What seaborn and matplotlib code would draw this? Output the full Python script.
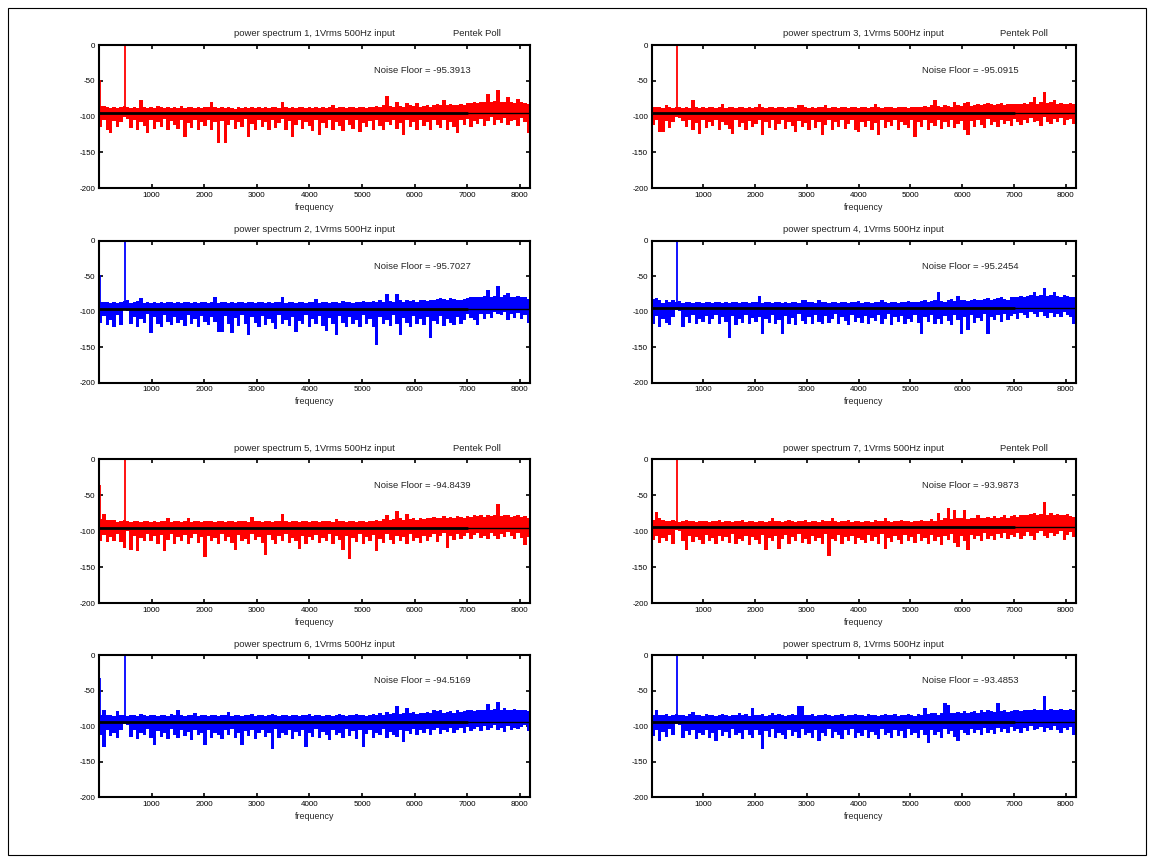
import numpy as np
import matplotlib
matplotlib.use("Agg")
import matplotlib.pyplot as plt
from matplotlib.patches import Rectangle
import seaborn as sns

# ---------------- data ----------------
BIN_HZ = 64            # width of one envelope step (Hz)
F_MAX = 8192           # right end of the frequency axis
TONE_HZ = 500          # input tone frequency
TONE_DB = 0            # tone peak level
NF_SPLIT_HZ = 7000     # noise-floor line drawn thick up to here

x_ticks = [1000, 2000, 3000, 4000, 5000, 6000, 7000, 8000]
y_ticks = [-200, -150, -100, -50, 0]

panel_ids = [1, 2, 3, 4, 5, 6, 7, 8]
noise_floor = [-95.3913, -95.7027, -95.0915, -95.2454, -94.8439, -94.5169, -93.9873, -93.4853]
dc_level = [-49, -48, -32, -40, -35, -33, -33, -35]
has_label = [True, False, True, False, True, False, True, False]

# upper / lower envelopes of each spectrum, one value per 64 Hz step (dB)
hi_1 = [-85, -85, -86, -88, -87, -88, -86, -85, -86, -88, -87, -88, -77, -87, -88, -86,
        -88, -85, -87, -88, -86, -88, -87, -88, -85, -88, -87, -86, -88, -87, -88, -86,
        -87, -80, -86, -88, -87, -88, -86, -88, -89, -87, -88, -86, -88, -87, -88, -87,
        -88, -86, -88, -87, -86, -88, -79, -86, -88, -87, -88, -86, -87, -88, -86, -88,
        -87, -88, -86, -88, -87, -84, -88, -86, -87, -88, -86, -87, -88, -86, -87, -88,
        -86, -87, -85, -86, -84, -71, -85, -86, -79, -85, -86, -81, -84, -85, -81, -86,
        -85, -84, -86, -84, -83, -84, -77, -84, -83, -84, -84, -83, -84, -81, -81, -79,
        -81, -80, -79, -68, -80, -78, -63, -80, -79, -73, -80, -81, -75, -80, -81, -82]
lo_1 = [-114, -104, -118, -123, -106, -115, -108, -100, -103, -116, -105, -119, -107, -113, -123, -104,
        -117, -108, -114, -103, -119, -106, -112, -117, -104, -129, -109, -116, -105, -118, -107, -113,
        -104, -119, -108, -137, -106, -137, -111, -104, -117, -108, -115, -103, -129, -110, -118, -105,
        -114, -107, -119, -104, -116, -109, -103, -118, -106, -128, -111, -104, -117, -108, -113, -120,
        -105, -126, -109, -116, -104, -118, -107, -113, -120, -105, -111, -117, -104, -122, -109, -115,
        -106, -118, -104, -113, -119, -107, -112, -104, -117, -109, -126, -105, -115, -108, -118, -104,
        -113, -107, -119, -105, -112, -116, -104, -118, -108, -114, -123, -105, -111, -103, -115, -106,
        -110, -103, -113, -106, -101, -112, -105, -109, -102, -111, -106, -104, -113, -102, -108, -123]

hi_2 = [-87, -87, -86, -88, -86, -88, -87, -85, -84, -88, -87, -85, -81, -88, -87, -88,
        -86, -88, -87, -88, -86, -87, -88, -86, -88, -87, -86, -88, -87, -88, -86, -87,
        -88, -87, -80, -88, -87, -86, -88, -87, -88, -86, -87, -88, -87, -86, -88, -87,
        -86, -88, -87, -88, -86, -87, -80, -88, -86, -87, -88, -87, -86, -88, -87, -86,
        -82, -88, -87, -86, -88, -87, -86, -88, -85, -87, -86, -88, -87, -86, -85, -87,
        -86, -85, -87, -84, -86, -75, -85, -86, -75, -84, -86, -83, -85, -84, -86, -83,
        -84, -85, -83, -84, -82, -81, -82, -83, -81, -82, -83, -84, -82, -81, -80, -79,
        -80, -79, -78, -70, -80, -78, -64, -80, -77, -74, -80, -79, -78, -80, -79, -82]
lo_2 = [-116, -106, -119, -112, -122, -105, -119, -98, -99, -117, -107, -121, -110, -116, -104, -130,
        -108, -118, -121, -105, -114, -119, -107, -116, -112, -120, -105, -117, -110, -122, -106, -115,
        -119, -107, -114, -128, -128, -106, -117, -130, -109, -120, -105, -118, -133, -108, -116, -121,
        -106, -119, -111, -116, -124, -105, -118, -112, -120, -107, -128, -113, -118, -105, -121, -110,
        -117, -106, -120, -127, -109, -118, -133, -106, -116, -121, -108, -117, -112, -122, -105, -118,
        -110, -121, -147, -107, -117, -112, -120, -105, -118, -133, -109, -116, -121, -106, -118, -111,
        -119, -107, -137, -113, -118, -106, -120, -110, -116, -119, -108, -117, -112, -104, -109, -112,
        -119, -103, -110, -104, -109, -101, -103, -105, -100, -112, -104, -109, -102, -110, -105, -116]

hi_3 = [-86, -87, -86, -88, -84, -87, -88, -86, -87, -88, -86, -88, -77, -87, -88, -86,
        -88, -87, -86, -88, -87, -83, -88, -86, -87, -88, -86, -87, -88, -86, -88, -87,
        -83, -87, -88, -86, -87, -88, -86, -87, -88, -86, -87, -88, -84, -84, -87, -88,
        -86, -88, -87, -86, -84, -88, -87, -86, -88, -87, -86, -88, -87, -86, -88, -87,
        -86, -88, -87, -83, -86, -88, -87, -86, -87, -88, -86, -87, -86, -88, -87, -86,
        -87, -86, -85, -86, -84, -77, -85, -86, -84, -85, -86, -80, -84, -85, -81, -80,
        -85, -84, -83, -84, -82, -81, -83, -84, -82, -81, -84, -83, -82, -83, -82, -83,
        -81, -82, -80, -72, -82, -79, -66, -81, -80, -77, -82, -81, -83, -82, -81, -83]
lo_3 = [-112, -105, -121, -121, -106, -116, -108, -100, -102, -106, -115, -104, -118, -109, -124, -105,
        -116, -108, -113, -104, -118, -107, -112, -117, -124, -105, -114, -109, -119, -106, -115, -110,
        -104, -126, -108, -116, -105, -119, -110, -104, -117, -108, -113, -121, -106, -115, -109, -118,
        -105, -116, -108, -126, -112, -104, -118, -107, -114, -105, -117, -110, -104, -119, -121, -107,
        -115, -106, -118, -109, -126, -105, -116, -108, -113, -104, -119, -107, -112, -116, -105, -128,
        -108, -115, -104, -118, -109, -113, -105, -117, -108, -114, -104, -116, -110, -106, -118, -126,
        -106, -114, -104, -111, -116, -103, -112, -107, -115, -104, -110, -106, -113, -103, -108, -111,
        -104, -109, -102, -108, -106, -113, -101, -107, -110, -103, -108, -102, -112, -105, -103, -110]

hi_4 = [-82, -81, -84, -88, -83, -87, -83, -86, -85, -88, -87, -86, -88, -87, -86, -88,
        -87, -86, -88, -87, -86, -88, -87, -88, -86, -87, -88, -86, -87, -88, -86, -87,
        -78, -88, -87, -86, -88, -87, -86, -88, -87, -88, -86, -87, -88, -83, -84, -87,
        -86, -88, -83, -87, -86, -88, -87, -86, -88, -87, -86, -88, -87, -86, -85, -88,
        -87, -86, -88, -87, -86, -84, -87, -88, -86, -87, -88, -86, -87, -85, -86, -87,
        -86, -85, -84, -86, -85, -84, -73, -85, -86, -84, -82, -85, -78, -84, -83, -85,
        -84, -82, -83, -84, -82, -81, -83, -82, -81, -80, -82, -83, -80, -79, -80, -78,
        -79, -78, -77, -72, -78, -77, -67, -78, -77, -73, -78, -79, -77, -78, -79, -80]
lo_4 = [-118, -106, -121, -110, -116, -119, -107, -98, -99, -121, -108, -116, -105, -117, -110, -115,
        -106, -118, -111, -105, -117, -108, -114, -137, -106, -119, -110, -116, -105, -118, -109, -115,
        -107, -131, -110, -116, -105, -118, -112, -131, -106, -117, -109, -119, -104, -113, -118, -107,
        -117, -105, -115, -118, -106, -116, -110, -104, -117, -108, -113, -119, -105, -114, -109, -116,
        -106, -118, -109, -113, -105, -117, -111, -104, -119, -108, -115, -106, -117, -110, -114, -105,
        -116, -131, -108, -114, -105, -117, -110, -118, -106, -113, -119, -105, -112, -131, -108, -126,
        -105, -116, -109, -113, -104, -131, -108, -112, -105, -115, -103, -112, -106, -104, -110, -102,
        -105, -109, -101, -104, -108, -100, -106, -109, -102, -107, -104, -108, -101, -105, -107, -117]

hi_5 = [-83, -76, -84, -84, -84, -87, -86, -84, -86, -87, -85, -86, -87, -85, -86, -87,
        -86, -87, -85, -86, -82, -87, -86, -85, -87, -86, -82, -87, -86, -85, -87, -86,
        -85, -86, -87, -85, -86, -87, -86, -85, -87, -86, -85, -86, -87, -80, -86, -85,
        -87, -86, -85, -87, -86, -85, -76, -86, -87, -85, -86, -87, -85, -86, -87, -86,
        -85, -87, -86, -85, -86, -87, -83, -85, -86, -87, -85, -86, -87, -85, -86, -87,
        -85, -86, -84, -85, -83, -78, -84, -83, -72, -82, -84, -76, -83, -81, -84, -82,
        -83, -81, -82, -80, -82, -81, -79, -82, -80, -81, -79, -80, -81, -79, -80, -78,
        -79, -78, -80, -77, -79, -78, -62, -79, -77, -78, -80, -79, -78, -80, -79, -81]
lo_5 = [-114, -105, -115, -108, -113, -104, -115, -123, -100, -126, -106, -128, -109, -114, -104, -113,
        -107, -117, -105, -128, -112, -104, -117, -108, -113, -105, -118, -109, -104, -116, -108, -136,
        -106, -114, -109, -117, -104, -113, -108, -116, -126, -105, -113, -110, -117, -104, -112, -108,
        -116, -133, -105, -112, -118, -107, -114, -104, -116, -109, -113, -124, -106, -117, -108, -112,
        -105, -116, -109, -114, -104, -118, -107, -112, -126, -106, -139, -109, -115, -104, -117, -108,
        -113, -105, -128, -110, -116, -104, -112, -118, -106, -113, -108, -117, -104, -114, -109, -116,
        -106, -113, -108, -104, -115, -107, -103, -123, -106, -112, -104, -110, -107, -102, -111, -105,
        -103, -109, -106, -111, -102, -107, -110, -104, -108, -101, -106, -111, -103, -109, -119, -108]

hi_6 = [-84, -77, -84, -85, -86, -79, -85, -84, -86, -85, -84, -86, -83, -85, -86, -84,
        -85, -86, -84, -85, -86, -83, -85, -77, -85, -86, -84, -85, -81, -86, -84, -85,
        -86, -84, -85, -86, -84, -85, -80, -86, -84, -85, -86, -84, -85, -83, -86, -85,
        -84, -86, -85, -83, -85, -86, -84, -85, -86, -84, -85, -86, -84, -85, -83, -86,
        -85, -84, -86, -85, -84, -86, -85, -83, -84, -86, -85, -84, -83, -85, -84, -86,
        -84, -83, -85, -82, -84, -80, -83, -82, -72, -83, -81, -75, -82, -80, -83, -81,
        -82, -80, -81, -77, -79, -78, -81, -80, -79, -81, -78, -80, -79, -78, -77, -79,
        -78, -77, -78, -69, -77, -76, -66, -77, -75, -77, -78, -76, -77, -78, -77, -79]
lo_6 = [-112, -130, -106, -114, -109, -117, -105, -97, -98, -115, -106, -118, -109, -113, -104, -116,
        -126, -107, -115, -109, -118, -104, -112, -117, -106, -114, -108, -119, -105, -113, -110, -126,
        -105, -116, -109, -113, -118, -106, -112, -104, -117, -109, -126, -107, -114, -105, -118, -110,
        -106, -115, -109, -132, -104, -117, -110, -113, -105, -118, -108, -114, -106, -130, -109, -115,
        -104, -117, -108, -113, -119, -105, -112, -109, -116, -104, -114, -107, -118, -106, -130, -111,
        -105, -116, -109, -113, -104, -117, -108, -112, -115, -105, -122, -107, -111, -104, -113, -106,
        -110, -104, -112, -106, -103, -111, -105, -108, -102, -110, -106, -103, -109, -101, -107, -104,
        -101, -107, -100, -106, -103, -99, -105, -102, -108, -100, -106, -102, -104, -101, -99, -107]

hi_7 = [-84, -73, -82, -84, -85, -86, -84, -85, -87, -86, -84, -86, -85, -87, -86, -85,
        -86, -87, -85, -86, -84, -87, -85, -86, -87, -85, -86, -84, -87, -86, -85, -87,
        -86, -85, -87, -86, -81, -85, -86, -87, -85, -84, -86, -87, -85, -86, -84, -87,
        -86, -85, -87, -84, -86, -85, -81, -86, -87, -85, -86, -84, -87, -85, -86, -87,
        -85, -86, -87, -84, -86, -85, -82, -86, -87, -85, -86, -84, -85, -86, -87, -85,
        -86, -84, -85, -86, -83, -85, -75, -84, -82, -68, -83, -70, -82, -81, -71, -83,
        -82, -81, -77, -82, -81, -80, -82, -79, -81, -80, -78, -81, -79, -78, -80, -77,
        -78, -77, -76, -74, -78, -76, -59, -77, -75, -78, -76, -77, -78, -76, -79, -80]
lo_7 = [-112, -106, -116, -109, -114, -105, -117, -98, -100, -113, -126, -106, -115, -108, -112, -117,
        -105, -114, -109, -118, -106, -113, -108, -116, -104, -117, -110, -113, -106, -119, -108, -112,
        -117, -105, -126, -109, -114, -106, -124, -111, -105, -117, -108, -113, -104, -116, -110, -118,
        -106, -114, -109, -117, -104, -134, -110, -113, -105, -118, -108, -114, -106, -117, -109, -112,
        -116, -105, -113, -108, -118, -104, -124, -109, -115, -106, -112, -117, -105, -114, -108, -116,
        -104, -113, -109, -117, -105, -114, -108, -119, -106, -112, -104, -116, -122, -107, -113, -126,
        -105, -111, -107, -114, -103, -110, -106, -112, -104, -109, -102, -111, -105, -108, -103, -110,
        -106, -101, -107, -112, -103, -100, -106, -109, -102, -107, -104, -100, -112, -105, -101, -108]

hi_8 = [-84, -77, -84, -85, -83, -86, -84, -83, -85, -84, -86, -83, -80, -85, -84, -86,
        -83, -85, -84, -86, -85, -83, -84, -86, -85, -84, -82, -85, -83, -86, -75, -84,
        -85, -83, -86, -84, -82, -85, -83, -84, -86, -85, -83, -84, -72, -72, -84, -85,
        -83, -86, -84, -85, -83, -84, -86, -85, -84, -83, -86, -85, -84, -83, -85, -84,
        -86, -83, -85, -84, -86, -85, -83, -84, -85, -83, -86, -84, -85, -83, -84, -86,
        -83, -84, -75, -83, -82, -81, -84, -82, -67, -70, -82, -81, -80, -82, -79, -81,
        -80, -79, -81, -78, -80, -77, -79, -80, -68, -79, -78, -80, -79, -78, -77, -79,
        -78, -77, -78, -76, -77, -78, -58, -77, -76, -78, -77, -76, -77, -78, -76, -78]
lo_8 = [-114, -105, -121, -108, -115, -104, -113, -97, -98, -116, -107, -113, -105, -118, -109, -112,
        -106, -117, -109, -121, -105, -114, -108, -117, -104, -113, -110, -118, -106, -112, -116, -105,
        -113, -132, -107, -115, -104, -117, -109, -112, -118, -105, -114, -108, -116, -104, -113, -110,
        -117, -105, -121, -109, -114, -104, -116, -108, -113, -118, -106, -112, -104, -117, -109, -114,
        -105, -116, -108, -113, -118, -104, -112, -109, -116, -105, -114, -107, -117, -104, -113, -110,
        -116, -106, -112, -124, -105, -113, -108, -116, -104, -111, -107, -115, -121, -105, -110, -113,
        -104, -110, -106, -113, -103, -109, -105, -111, -102, -108, -104, -110, -101, -107, -104, -109,
        -102, -107, -100, -106, -104, -101, -108, -103, -106, -100, -105, -109, -102, -106, -101, -112]

upper = [hi_1, hi_2, hi_3, hi_4, hi_5, hi_6, hi_7, hi_8]
lower = [lo_1, lo_2, lo_3, lo_4, lo_5, lo_6, lo_7, lo_8]

# grid placement: rows top->bottom, columns left/right
grid = [[1, 3], [2, 4], [5, 7], [6, 8]]

# ---------------- style ----------------
sns.set_theme(style="ticks")
plt.rcParams["font.family"] = ["Liberation Sans", "DejaVu Sans"]
plt.rcParams["axes.unicode_minus"] = False
plt.rcParams["axes.edgecolor"] = "black"
plt.rcParams["axes.linewidth"] = 1.5

RED = "#ff0000"
BLUE = "#0000ff"

fig = plt.figure(figsize=(11.51, 8.61), dpi=100)
W, H = 1151.0, 861.0

col_x = [(99.0, 430.9), (651.5, 424.3)]                  # left px, width px
row_y = [(45.0, 188.3), (240.5, 382.7), (459.3, 603.3), (655.0, 797.3)]  # top px, bottom px

for r, row in enumerate(grid):
    for c, pid in enumerate(row):
        i = panel_ids.index(pid)
        x0, w = col_x[c]
        top, bot = row_y[r]
        ax = fig.add_axes([x0 / W, 1 - bot / H, w / W, (bot - top) / H])
        color = RED if pid % 2 == 1 else BLUE

        hi = np.asarray(upper[i], dtype=float)
        lo = np.asarray(lower[i], dtype=float)
        edges = np.arange(len(hi) + 1) * BIN_HZ
        ax.fill_between(edges, np.append(lo, lo[-1]), np.append(hi, hi[-1]),
                        step="post", color=color, lw=0, zorder=2)
        # DC component at the left edge and the 500 Hz input tone
        ax.vlines(18, hi[0], dc_level[i], color=color, lw=1.3, zorder=2)
        tone_bin = TONE_HZ // BIN_HZ
        ax.vlines(TONE_HZ, hi[tone_bin], TONE_DB, color=color, lw=1.3, zorder=2)

        nf = noise_floor[i]
        sns.lineplot(x=[0, NF_SPLIT_HZ], y=[nf, nf], color="black", lw=2.0, ax=ax, zorder=3)
        sns.lineplot(x=[NF_SPLIT_HZ, F_MAX], y=[nf, nf], color="black", lw=1.0, ax=ax, zorder=3)

        ax.set_xlim(0, F_MAX)
        ax.set_ylim(-200, 0)
        ax.set_xticks(x_ticks)
        ax.set_yticks(y_ticks)
        ax.tick_params(direction="in", top=True, right=True, length=3, width=1.2,
                       labelsize=5.8, pad=2.5, colors="black")
        for s in ax.spines.values():
            s.set_linewidth(1.5)
            s.set_color("black")
        ax.set_xlabel("frequency", fontsize=6.4, labelpad=3)
        ax.set_ylabel("")

        ty = 1.077
        ax.set_title(f"power spectrum {pid}, 1Vrms 500Hz input", fontsize=6.8,
                     y=ty, pad=0, va="center")
        if has_label[i]:
            ax.text(0.877, ty, "Pentek Poll", transform=ax.transAxes, fontsize=6.8,
                    ha="center", va="center")
        ax.text(5230, -36, f"Noise Floor = {nf:.4f}", fontsize=6.8, ha="left", va="center")

# outer frame
fig.patches.append(Rectangle((8 / W, 1 - 855 / H), (1146 - 8) / W, (855 - 8) / H,
                             transform=fig.transFigure, fill=False, lw=0.8, ec="black"))

fig.savefig("out.png", dpi=100, facecolor="white")
